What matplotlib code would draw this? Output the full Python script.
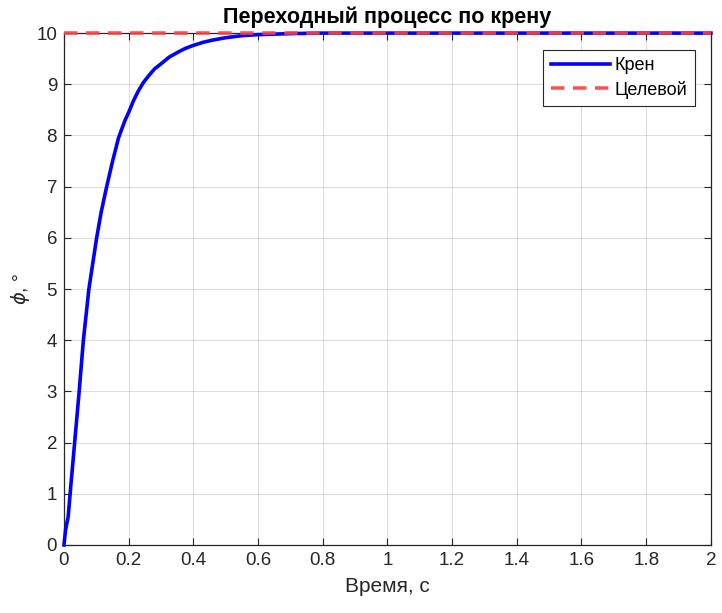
import matplotlib.pyplot as plt
import numpy as np

plt.rcParams['font.family'] = ['Liberation Sans', 'DejaVu Sans']

# values
t = [0, 0.005, 0.013, 0.019, 0.033, 0.047, 0.060, 0.077, 0.089, 0.101, 0.115,
     0.132, 0.15, 0.169, 0.189, 0.2, 0.215, 0.23, 0.245, 0.261, 0.28, 0.302,
     0.325, 0.353, 0.375, 0.40, 0.43, 0.457, 0.5, 0.55, 0.6, 0.7, 0.8, 1.0, 2.0]
phi = [0, 0.3, 0.55, 1, 2, 3, 4, 5, 5.5, 6, 6.5,
       7, 7.49, 7.96, 8.30, 8.45, 8.68, 8.87, 9.03, 9.16, 9.30, 9.41,
       9.53, 9.63, 9.70, 9.76, 9.82, 9.86, 9.91, 9.95, 9.97, 9.99, 10.0, 10.0, 10.0]
target_t = [0, 2]
target_phi = [10, 10]

ax_col = '#262626'

fig = plt.figure(figsize=(7.22, 6.13), dpi=100)
ax = fig.add_axes([0.0886, 0.111, 0.896, 0.835])

ax.plot(t, phi, color='#0000ff', lw=2.6, label='Крен', zorder=3, clip_on=False)
ax.plot(target_t, target_phi, color='#ff4040', lw=2.6, linestyle=(0, (3.7, 2.4)),
        label='Целевой', zorder=4, alpha=0.9, clip_on=False)

ax.set_xlim(0, 2)
ax.set_ylim(0, 10)
ax.set_xticks(np.arange(0, 2.01, 0.2))
ax.set_xticklabels(['0', '0.2', '0.4', '0.6', '0.8', '1', '1.2', '1.4', '1.6', '1.8', '2'])
ax.set_yticks(range(0, 11))

ax.grid(True, color='#000000', alpha=0.13, lw=0.8)
ax.tick_params(direction='in', top=True, right=True, length=5, width=0.8,
               labelsize=13.5, colors=ax_col, pad=5)
for s in ax.spines.values():
    s.set_color(ax_col)
    s.set_linewidth(0.9)

ax.set_title('Переходный процесс по крену', fontsize=15.5, fontweight='bold', pad=7)
ax.set_xlabel('Время, с', fontsize=15, color=ax_col, labelpad=6)
ax.set_ylabel('$\\phi$, °', fontsize=14, color=ax_col, labelpad=3)

leg = ax.legend(loc='upper right', bbox_to_anchor=(0.975, 0.967), borderaxespad=0,
                fontsize=13, handlelength=3.3, handletextpad=0.25, borderpad=0.4,
                labelspacing=0.35, fancybox=False, framealpha=1, edgecolor=ax_col)
leg.get_frame().set_linewidth(0.8)

fig.savefig('out.png', dpi=100)
